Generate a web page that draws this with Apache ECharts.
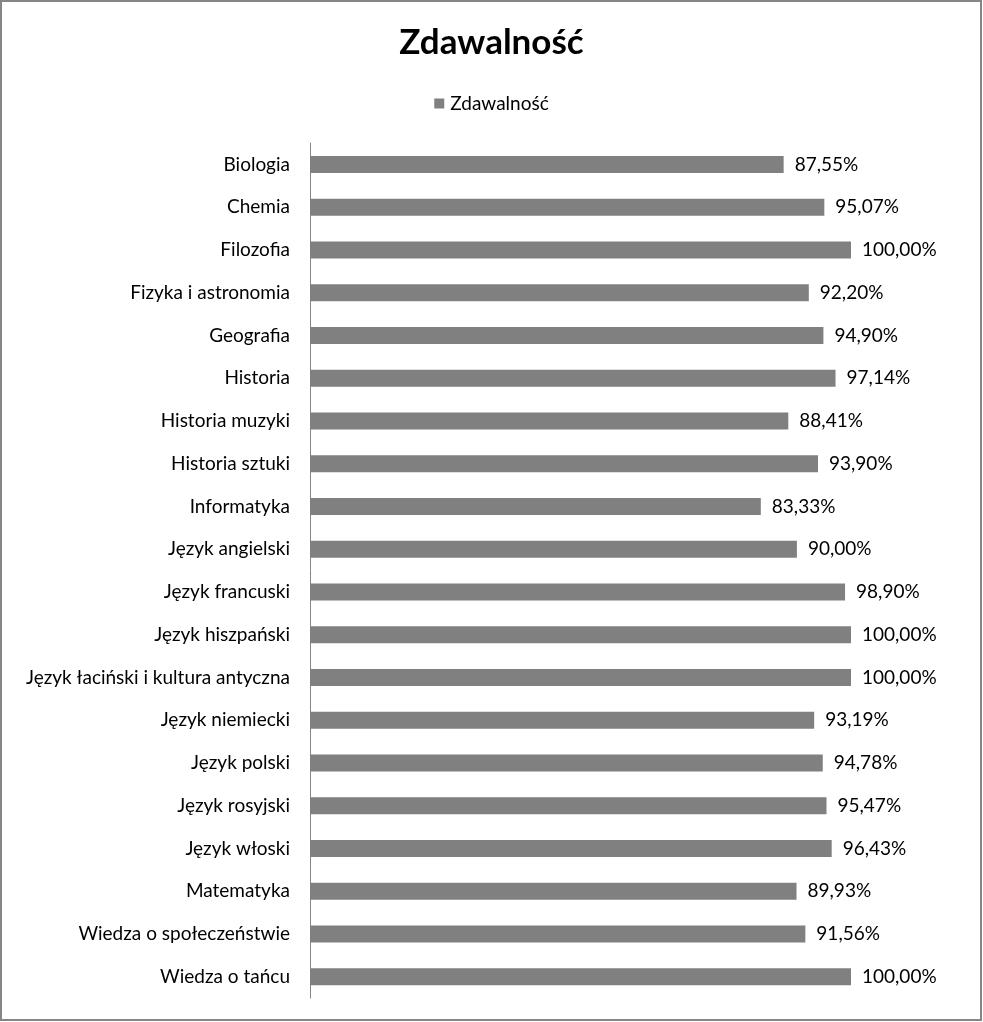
<!DOCTYPE html>
<html><head><meta charset="utf-8">
<script src="https://cdn.jsdelivr.net/npm/echarts@6/dist/echarts.min.js"></script>
<style>html,body{margin:0;padding:0;background:#fff}#c{width:983px;height:1022px}</style>
</head><body><div id="c"></div>
<script>
const categories = ["Biologia","Chemia","Filozofia","Fizyka i astronomia","Geografia","Historia","Historia muzyki","Historia sztuki","Informatyka","Język angielski","Język francuski","Język hiszpański","Język łaciński i kultura antyczna","Język niemiecki","Język polski","Język rosyjski","Język włoski","Matematyka","Wiedza o społeczeństwie","Wiedza o tańcu"];
const values = [87.55,95.07,100.00,92.20,94.90,97.14,88.41,93.90,83.33,90.00,98.90,100.00,100.00,93.19,94.78,95.47,96.43,89.93,91.56,100.00];
const seriesName = "Zdawalność";
const titleText = "Zdawalność";
const FONT = "Lato";
const chart = echarts.init(document.getElementById('c'));
chart.setOption({
  animation:false,
  backgroundColor:'#fff',
  title:{text:titleText,left:'center',top:20,textStyle:{fontFamily:FONT,fontWeight:'bold',fontSize:35,color:'#000'}},
  legend:{top:89,left:'center',icon:'rect',itemWidth:10,itemHeight:10,itemGap:4,textStyle:{fontFamily:FONT,fontSize:19,color:'#000',padding:[0,0,0,1]},data:[seriesName]},
  grid:{left:310,right:132,top:143,bottom:24,containLabel:false},
  xAxis:{type:'value',min:0,max:100,show:false},
  yAxis:{type:'category',data:categories,inverse:true,
    axisLine:{show:true,lineStyle:{color:'#868686',width:1}},axisTick:{show:false},
    axisLabel:{fontFamily:FONT,fontSize:19,color:'#000',margin:20}},
  series:[{name:seriesName,type:'bar',data:values,barWidth:17,itemStyle:{color:'#808080'},
    label:{show:true,position:'right',distance:11,fontFamily:FONT,fontSize:19,color:'#000',
      formatter:p=>p.value.toFixed(2).replace('.',',')+'%'}}],
  graphic:[{type:'rect',shape:{x:1,y:1,width:980,height:1019},style:{fill:'none',stroke:'#868686',lineWidth:2},silent:true}]
});
</script></body></html>
